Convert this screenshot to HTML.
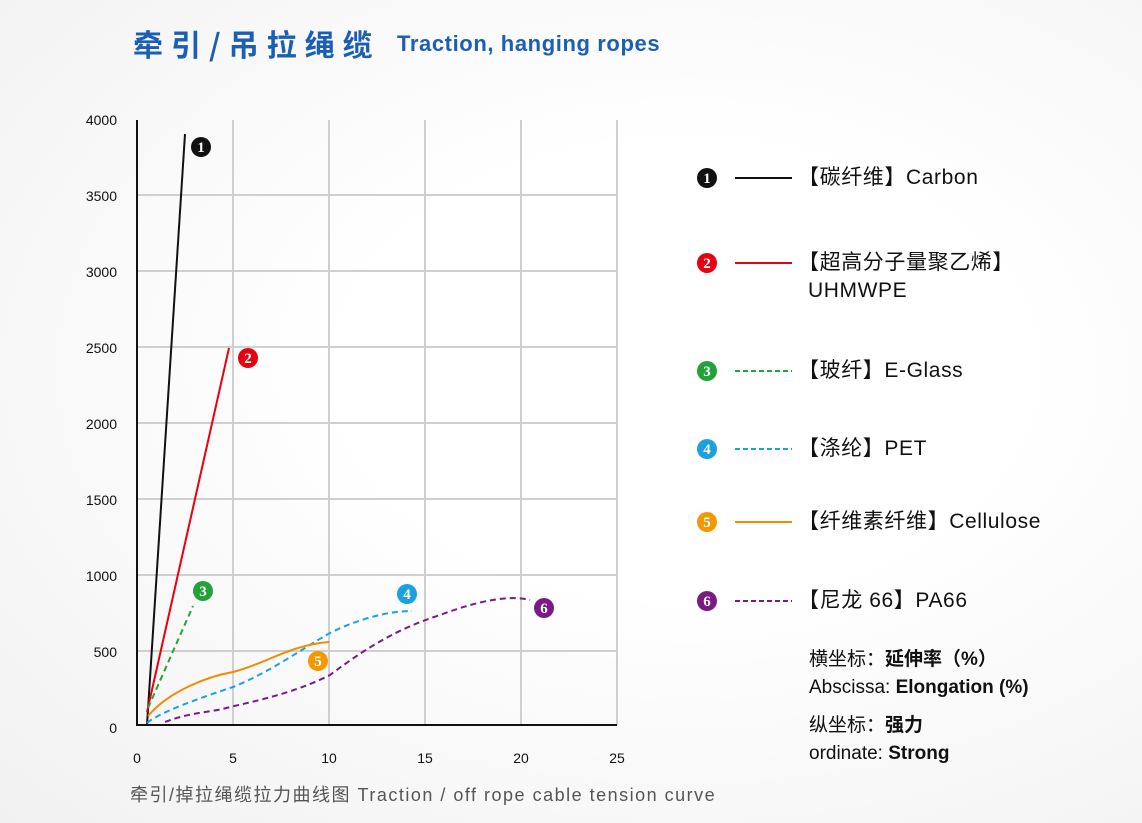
<!DOCTYPE html>
<html><head><meta charset="utf-8"><style>
html,body{margin:0;padding:0}
body{width:1142px;height:823px;overflow:hidden;background:radial-gradient(ellipse at 60% 45%,#ffffff 35%,#f1f1f1 100%);font-family:"Liberation Sans","Noto Sans CJK SC",sans-serif;position:relative}
.t{position:absolute;white-space:nowrap}
</style></head><body>
<div class="t" style="left:133px;top:23px;font-size:30px;font-weight:bold;color:#1a5fb4;letter-spacing:8px;font-family:'Noto Sans CJK SC',sans-serif;line-height:40px">牵引/吊拉绳缆</div>
<div class="t" style="left:397px;top:30px;font-size:22px;font-weight:bold;color:#1a5fb4;line-height:28px;letter-spacing:0.6px">Traction, hanging ropes</div>
<svg width="1142" height="823" style="position:absolute;left:0;top:0" font-family="Liberation Sans, sans-serif">
<g stroke="#cfcfcf" stroke-width="2">
<line x1="233" y1="120" x2="233" y2="725"/><line x1="329" y1="120" x2="329" y2="725"/><line x1="425" y1="120" x2="425" y2="725"/><line x1="521" y1="120" x2="521" y2="725"/><line x1="617" y1="120" x2="617" y2="725"/>
<line x1="137" y1="651" x2="617" y2="651"/><line x1="137" y1="575" x2="617" y2="575"/><line x1="137" y1="499" x2="617" y2="499"/><line x1="137" y1="423" x2="617" y2="423"/><line x1="137" y1="347" x2="617" y2="347"/><line x1="137" y1="271" x2="617" y2="271"/><line x1="137" y1="195" x2="617" y2="195"/>
</g>
<polyline points="137,120 137,725 617,725" fill="none" stroke="#111" stroke-width="2"/>
<g font-size="14" fill="#111" text-anchor="end">
<text x="117" y="125">4000</text><text x="117" y="201">3500</text><text x="117" y="277">3000</text><text x="117" y="353">2500</text><text x="117" y="429">2000</text><text x="117" y="505">1500</text><text x="117" y="581">1000</text><text x="117" y="657">500</text><text x="117" y="733">0</text>
</g>
<g font-size="14" fill="#111" text-anchor="middle">
<text x="137" y="763">0</text><text x="233" y="763">5</text><text x="329" y="763">10</text><text x="425" y="763">15</text><text x="521" y="763">20</text><text x="617" y="763">25</text>
</g>
<line x1="147" y1="725" x2="185" y2="134" stroke="#111" stroke-width="2"/>
<line x1="147" y1="712" x2="229" y2="348" stroke="#e60012" stroke-width="2"/>
<line x1="148" y1="708" x2="193" y2="606" stroke="#22a33a" stroke-width="2" stroke-dasharray="6,4"/>
<path d="M147,723 C160,712 200,698 233,687 C270,672 300,650 330,633 C360,618 390,611 412,611" fill="none" stroke="#1ba1e2" stroke-width="2" stroke-dasharray="6,4"/>
<path d="M148,716 C170,690 210,676 233,672 C265,664 290,645 329,642" fill="none" stroke="#f08c00" stroke-width="2"/>
<path d="M165,722 C190,712 215,712 230,707 C270,698 300,690 330,675 C370,645 400,628 440,615 C480,600 510,595 530,600" fill="none" stroke="#7b1a84" stroke-width="2" stroke-dasharray="6,4"/>
<g font-family="Liberation Serif, serif" font-weight="bold" font-size="15" fill="#fff" text-anchor="middle">
<circle cx="201" cy="147" r="10" fill="#111"/><text x="201" y="152">1</text>
<circle cx="248" cy="358" r="10" fill="#e60012"/><text x="248" y="363">2</text>
<circle cx="203" cy="591" r="10" fill="#22a33a"/><text x="203" y="596">3</text>
<circle cx="407" cy="594" r="10" fill="#1ba1e2"/><text x="407" y="599">4</text>
<circle cx="318" cy="661" r="10" fill="#f39800"/><text x="318" y="666">5</text>
<circle cx="544" cy="608" r="10" fill="#7b1a84"/><text x="544" y="613">6</text>
<circle cx="707" cy="178" r="10" fill="#111"/><text x="707" y="183">1</text>
<circle cx="707" cy="263" r="10" fill="#e60012"/><text x="707" y="268">2</text>
<circle cx="707" cy="371" r="10" fill="#22a33a"/><text x="707" y="376">3</text>
<circle cx="707" cy="449" r="10" fill="#1ba1e2"/><text x="707" y="454">4</text>
<circle cx="707" cy="522" r="10" fill="#f39800"/><text x="707" y="527">5</text>
<circle cx="707" cy="601" r="10" fill="#7b1a84"/><text x="707" y="606">6</text>
</g>
<line x1="735" y1="178" x2="792" y2="178" stroke="#111" stroke-width="2"/>
<line x1="735" y1="263" x2="792" y2="263" stroke="#e60012" stroke-width="2"/>
<line x1="735" y1="371" x2="792" y2="371" stroke="#22a33a" stroke-width="2" stroke-dasharray="5,3"/>
<line x1="735" y1="449" x2="792" y2="449" stroke="#1ba1e2" stroke-width="2" stroke-dasharray="5,3"/>
<line x1="735" y1="522" x2="792" y2="522" stroke="#f08c00" stroke-width="2"/>
<line x1="735" y1="601" x2="792" y2="601" stroke="#7b1a84" stroke-width="2" stroke-dasharray="5,3"/>
</svg>
<div style="position:absolute;left:798px;top:0;font-size:21px;letter-spacing:0.6px;color:#111;font-family:'Liberation Sans','Noto Sans CJK SC',sans-serif">
<div class="t" style="top:161px">【碳纤维】Carbon</div>
<div class="t" style="top:246px">【超高分子量聚乙烯】</div>
<div class="t" style="top:279px;left:10px">UHMWPE</div>
<div class="t" style="top:354px">【玻纤】E-Glass</div>
<div class="t" style="top:432px">【涤纶】PET</div>
<div class="t" style="top:505px">【纤维素纤维】Cellulose</div>
<div class="t" style="top:584px">【尼龙 66】PA66</div>
</div>
<div style="position:absolute;left:809px;top:0;font-size:19px;color:#111;font-family:'Liberation Sans','Noto Sans CJK SC',sans-serif">
<div class="t" style="top:644px">横坐标：<b>延伸率（%）</b></div>
<div class="t" style="top:677px">Abscissa: <b>Elongation (%)</b></div>
<div class="t" style="top:710px">纵坐标：<b>强力</b></div>
<div class="t" style="top:743px">ordinate: <b>Strong</b></div>
</div>
<div class="t" style="left:130px;top:781px;font-size:18px;letter-spacing:1.5px;color:#555;font-family:'Liberation Sans','Noto Sans CJK SC',sans-serif">牵引/掉拉绳缆拉力曲线图 Traction / off rope cable tension curve</div>
</body></html>
